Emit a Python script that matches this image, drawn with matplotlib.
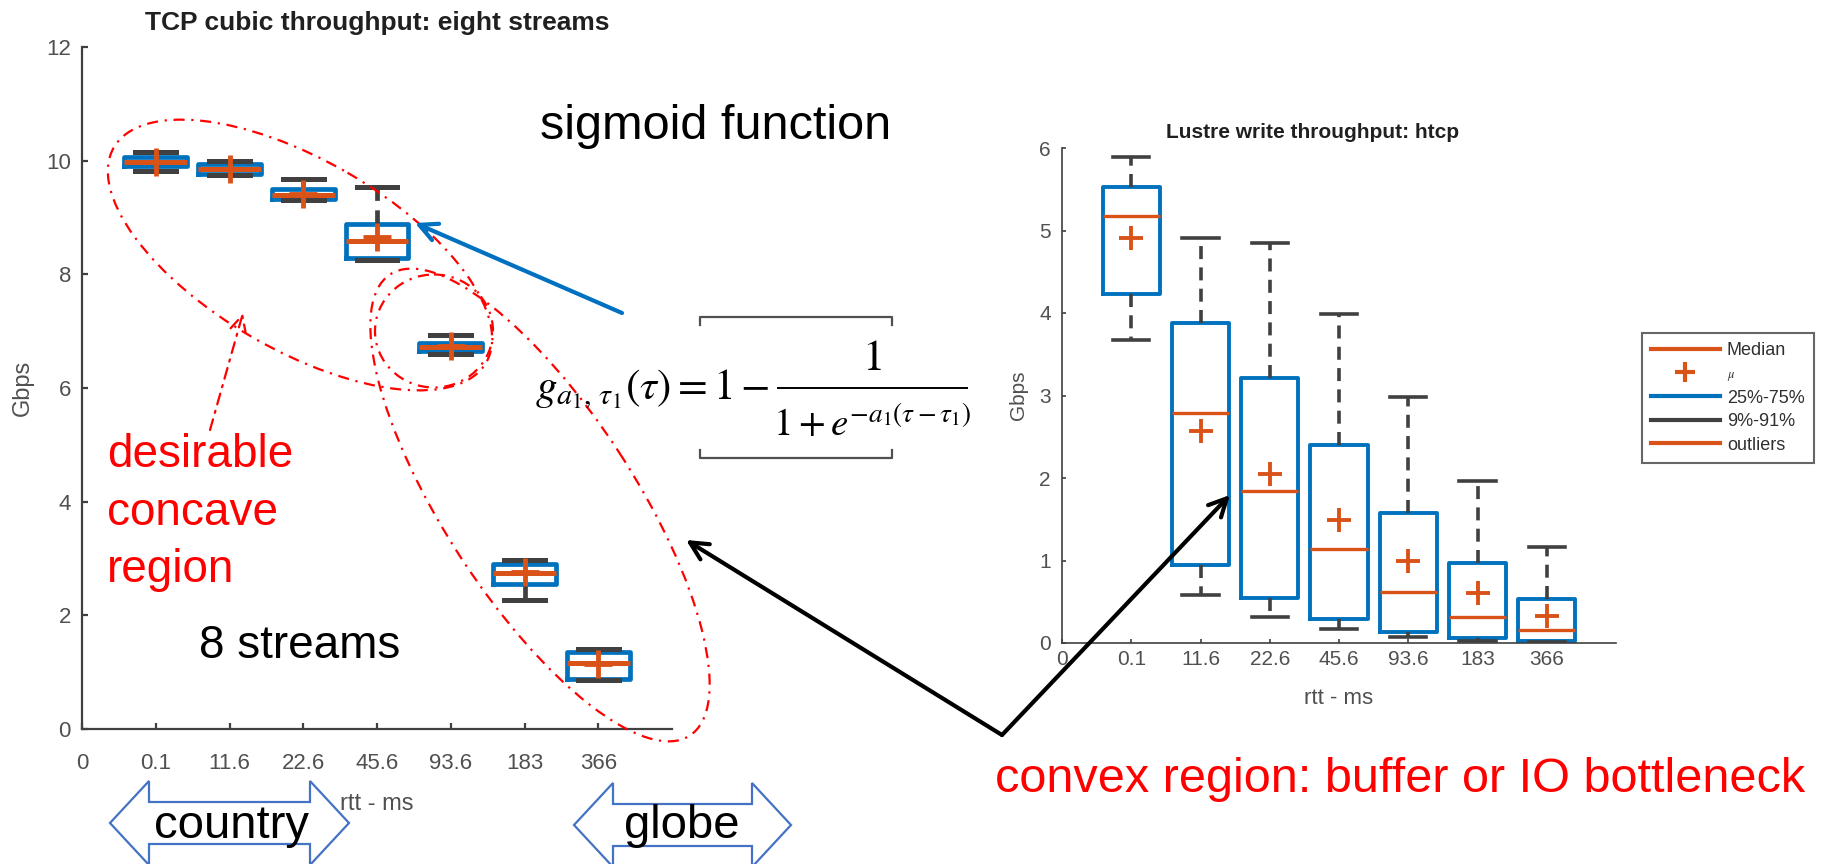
import matplotlib
matplotlib.use('Agg')
import matplotlib.pyplot as plt
from matplotlib import font_manager
from matplotlib.patches import Ellipse, Polygon
from matplotlib.lines import Line2D

avail = {f.name for f in font_manager.fontManager.ttflist}
SANS = 'Liberation Sans' if 'Liberation Sans' in avail else 'DejaVu Sans'
NARROW = 'Liberation Sans Narrow' if 'Liberation Sans Narrow' in avail else SANS
plt.rcParams['font.family'] = [SANS, 'DejaVu Sans']
plt.rcParams['mathtext.fontset'] = 'stix'

# ---------------- data ----------------
rtt_labels = ['0.1', '11.6', '22.6', '45.6', '93.6', '183', '366']
tick_labels = ['0'] + rtt_labels

# TCP cubic throughput, eight streams (Gbps)
tcp_q1 = [9.90, 9.76, 9.32, 8.28, 6.65, 2.56, 0.88]
tcp_q3 = [10.06, 9.94, 9.51, 8.88, 6.80, 2.90, 1.35]
tcp_med = [9.97, 9.85, 9.39, 8.59, 6.73, 2.74, 1.16]
tcp_mean = [9.98, 9.86, 9.42, 8.65, 6.74, 2.76, 1.15]
tcp_hi = [10.15, 10.00, 9.68, 9.53, 6.94, 2.98, 1.40]
tcp_lo = [9.81, 9.74, 9.31, 8.26, 6.60, 2.27, 0.86]

# Lustre write throughput, htcp (Gbps)
lus_q1 = [4.23, 0.95, 0.55, 0.29, 0.13, 0.06, 0.02]
lus_q3 = [5.53, 3.88, 3.21, 2.40, 1.58, 0.97, 0.53]
lus_med = [5.18, 2.79, 1.84, 1.14, 0.62, 0.31, 0.16]
lus_mean = [4.91, 2.57, 2.05, 1.49, 0.99, 0.61, 0.33]
lus_hi = [5.89, 4.91, 4.85, 3.99, 2.98, 1.96, 1.16]
lus_lo = [3.67, 0.58, 0.32, 0.17, 0.07, 0.03, 0.01]

legend_labels = ['Median', r'$\mu$', '25%-75%', '9%-91%', 'outliers']

BLUE = '#0072BD'
ORANGE = '#D95319'
GRAY = '#404040'
RED = '#FF0000'
ARROWBLUE = '#0070C0'
BLOCKBLUE = '#4472C4'

W, H = 1823, 864
fig = plt.figure(figsize=(W / 100, H / 100), dpi=100)


def frac(x0, y0, x1, y1):
    return [x0 / W, 1 - y1 / H, (x1 - x0) / W, (y1 - y0) / H]


def stats(q1, q3, med, mean, lo, hi):
    out = []
    for i in range(len(q1)):
        out.append(dict(q1=q1[i], q3=q3[i], med=med[i], mean=mean[i],
                        whislo=lo[i], whishi=hi[i], fliers=[]))
    return out


def style_axes(ax, fs, lw, tl):
    for s in ('top', 'right'):
        ax.spines[s].set_visible(False)
    for s in ('left', 'bottom'):
        ax.spines[s].set_color(GRAY)
        ax.spines[s].set_linewidth(lw)
    ax.tick_params(direction='in', colors=GRAY, labelcolor='#505050',
                   labelsize=fs, length=tl, width=lw)


# ---------------- left chart ----------------
axL = fig.add_axes(frac(82, 47, 672, 729))
positions = list(range(1, len(rtt_labels) + 1))
axL.bxp(stats(tcp_q1, tcp_q3, tcp_med, tcp_mean, tcp_lo, tcp_hi),
        positions=positions, widths=0.85, capwidths=0.55, showmeans=True,
        showfliers=False, manage_ticks=False,
        boxprops=dict(color=BLUE, lw=3.4),
        medianprops=dict(color=ORANGE, lw=3.6),
        whiskerprops=dict(color=GRAY, lw=3.4, linestyle=(0, (3, 2))),
        capprops=dict(color=GRAY, lw=3.6),
        meanprops=dict(marker='+', markeredgecolor=ORANGE, markersize=20,
                       markeredgewidth=3.5))
axL.set_xlim(0, 8)
axL.set_ylim(0, 12)
axL.set_xticks(range(0, 8))
axL.set_xticklabels(tick_labels, family=NARROW)
axL.set_yticks(range(0, 13, 2))
axL.set_yticklabels([str(v) for v in range(0, 13, 2)], family=NARROW)
style_axes(axL, 16, 1.6, 4)
axL.tick_params(axis='x', pad=17)
axL.tick_params(axis='y', pad=8)
axL.set_title('TCP cubic throughput: eight streams', fontsize=19,
              fontweight='bold', color='#202020', y=1.013)
axL.set_xlabel('rtt - ms', fontsize=17, color='#505050', family=NARROW)
axL.xaxis.set_label_coords(0.5, -0.094)
axL.set_ylabel('Gbps', fontsize=17, color='#505050')
axL.yaxis.set_label_coords(-0.1, 0.5)
axL.yaxis.label.set_verticalalignment('center')

# ---------------- right chart ----------------
axR = fig.add_axes(frac(1062, 148, 1616, 643))
axR.bxp(stats(lus_q1, lus_q3, lus_med, lus_mean, lus_lo, lus_hi),
        positions=positions, widths=0.83, capwidths=0.52, showmeans=True,
        showfliers=False, manage_ticks=False,
        boxprops=dict(color=BLUE, lw=2.8),
        medianprops=dict(color=ORANGE, lw=2.4),
        whiskerprops=dict(color=GRAY, lw=2.6, linestyle=(0, (3.6, 2.3))),
        capprops=dict(color=GRAY, lw=2.6),
        meanprops=dict(marker='+', markeredgecolor=ORANGE, markersize=17,
                       markeredgewidth=2.8))
axR.set_xlim(0, 8)
axR.set_ylim(0, 6)
axR.set_xticks(range(0, 8))
axR.set_xticklabels(tick_labels)
axR.set_yticks(range(0, 7))
style_axes(axR, 15, 1.2, 3)
axR.tick_params(axis='x', pad=5)
axR.tick_params(axis='y', pad=8)
axR.set_title('Lustre write throughput: htcp', fontsize=15,
              fontweight='bold', color='#202020', x=0.453, y=1.004)
axR.set_xlabel('rtt - ms', fontsize=16, color='#505050')
axR.xaxis.set_label_coords(0.5, -0.09)
axR.set_ylabel('Gbps', fontsize=15, color='#505050')
axR.yaxis.set_label_coords(-0.079, 0.5)
axR.yaxis.label.set_verticalalignment('center')

handles = [Line2D([], [], color=ORANGE, lw=3),
           Line2D([], [], ls='none', marker='+', ms=15, mew=3, color=ORANGE),
           Line2D([], [], color=BLUE, lw=3),
           Line2D([], [], color=GRAY, lw=3),
           Line2D([], [], color=ORANGE, lw=3)]
leg = fig.legend(handles, legend_labels, loc='upper left',
                 bbox_to_anchor=(1642 / W, 1 - 333 / H), frameon=True,
                 fancybox=False, edgecolor=GRAY, fontsize=13,
                 handlelength=3.8, handletextpad=0.4, labelspacing=0.36,
                 borderpad=0.5, borderaxespad=0)
leg.get_frame().set_linewidth(1.5)
leg.get_texts()[1].set_fontsize(9)
for t in leg.get_texts():
    t.set_color('#303030')

# ---------------- slide overlay ----------------
ov = fig.add_axes([0, 0, 1, 1])
ov.set_xlim(0, W)
ov.set_ylim(H, 0)
ov.axis('off')
ov.patch.set_alpha(0)

dd = dict(fill=False, edgecolor=RED, lw=1.6, linestyle=(0, (5, 3, 1, 3)))
ov.add_patch(Ellipse((300, 255), 430, 190, angle=30, **dd))
ov.add_patch(Ellipse((540, 505), 550, 190, angle=57, **dd))
ov.add_patch(Ellipse((434, 331), 118, 113, angle=0, **dd))

ov.annotate('', xy=(243, 313), xytext=(210, 430),
            arrowprops=dict(arrowstyle='->', color=RED, lw=1.6,
                            linestyle=(0, (5, 3, 1, 3)), mutation_scale=28,
                            shrinkA=0, shrinkB=0))
ov.annotate('', xy=(415, 223), xytext=(622, 313),
            arrowprops=dict(arrowstyle='->', color=ARROWBLUE, lw=3,
                            mutation_scale=32, shrinkA=0, shrinkB=0))
for tip in [(686, 540), (1230, 495)]:
    ov.annotate('', xy=tip, xytext=(1002, 735),
                arrowprops=dict(arrowstyle='->', color='black', lw=3,
                                mutation_scale=32, shrinkA=0, shrinkB=0))


def block_arrow(xl, xr, yc, hl=39, hh=42, sh=21):
    pts = [(xl, yc), (xl + hl, yc - hh), (xl + hl, yc - sh), (xr - hl, yc - sh),
           (xr - hl, yc - hh), (xr, yc), (xr - hl, yc + hh), (xr - hl, yc + sh),
           (xl + hl, yc + sh), (xl + hl, yc + hh)]
    ov.add_patch(Polygon(pts, closed=True, facecolor='white',
                         edgecolor=BLOCKBLUE, lw=1.6))


block_arrow(110, 349, 823)
block_arrow(574, 791, 825)

ov.text(540, 139, 'sigmoid function', fontsize=35, color='black',
        ha='left', va='baseline')
ov.text(199, 658, '8 streams', fontsize=33, color='black',
        ha='left', va='baseline')
ov.text(231, 838, 'country', fontsize=34, color='black',
        ha='center', va='baseline')
ov.text(682, 838, 'globe', fontsize=34, color='black',
        ha='center', va='baseline')
for txt, yb in [('desirable', 467), ('concave', 525), ('region', 582)]:
    ov.text(107, yb, txt, fontsize=33, color=RED, ha='left', va='baseline')
ov.text(995, 792, 'convex region: buffer or IO bottleneck', fontsize=35,
        color=RED, ha='left', va='baseline')

# sigmoid formula (equation object)
ov.text(535, 399, r'$g_{a_1,\,\tau_1}(\tau) = 1 -$', fontsize=31,
        color='black', ha='left', va='baseline')
ov.text(872, 370, r'$1$', fontsize=32, color='black',
        ha='center', va='baseline')
ov.plot([778, 967], [388, 388], color='black', lw=1.4)
ov.text(872, 436, r'$1 + e^{-a_1(\tau-\tau_1)}$', fontsize=28,
        color='black', ha='center', va='baseline')
# equation-object brackets
ov.plot([700, 700, 892, 892], [325, 317, 317, 325], color='#505050', lw=1.6)
ov.plot([700, 700, 892, 892], [450, 458, 458, 450], color='#505050', lw=1.6)

fig.savefig('out.png', dpi=100)
